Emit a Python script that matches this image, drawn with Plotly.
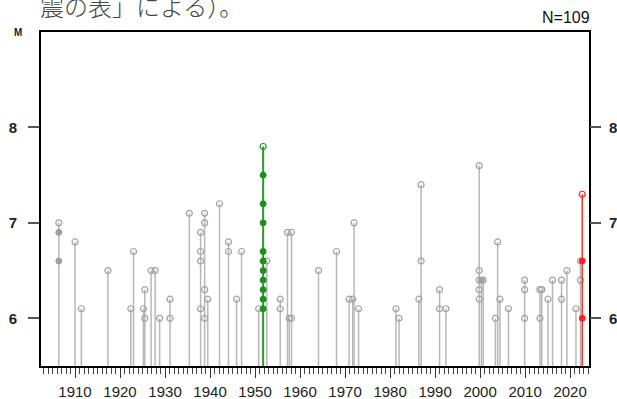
import plotly.graph_objects as go
from collections import Counter

# ---- data ----
gray_years = [1906.4, 1910.0, 1911.4, 1917.3, 1922.4, 1923.0, 1925.2, 1925.5, 1926.9, 1927.8,
              1928.8, 1931.1, 1935.4, 1937.9, 1938.8, 1939.5, 1942.1, 1944.1, 1945.9, 1947.0,
              1950.8, 1952.6, 1955.6, 1957.2, 1957.6, 1958.1, 1964.1, 1968.1, 1970.9, 1971.7,
              1972.0, 1973.0, 1981.3, 1982.0, 1986.4, 1986.9, 1991.0, 1992.4, 1999.8, 2000.3,
              2000.7, 2003.4, 2003.9, 2004.4, 2006.3, 2009.9, 2013.3, 2013.7, 2015.1, 2016.1,
              2018.1, 2019.3, 2021.3, 2022.3]
gray_mags = [[7.0, 6.9, 6.9, 6.6, 6.6], [6.8], [6.1], [6.5], [6.1], [6.7], [6.1], [6.3, 6.0], [6.5], [6.5],
             [6.0], [6.2, 6.0], [7.1], [6.9, 6.7, 6.6, 6.1], [7.1, 7.0, 6.3, 6.0], [6.2], [7.2], [6.8, 6.7], [6.2], [6.7],
             [6.1], [6.6], [6.2, 6.1], [6.9], [6.0], [6.9, 6.0], [6.5], [6.7], [6.2], [6.2],
             [7.0], [6.1], [6.1], [6.0], [6.2], [7.4, 6.6], [6.3, 6.1], [6.1], [7.6, 6.5, 6.4, 6.3, 6.2], [6.4, 6.4],
             [6.4], [6.0], [6.8], [6.2], [6.1], [6.4, 6.3, 6.0], [6.3, 6.0], [6.3], [6.2], [6.4],
             [6.4, 6.2], [6.5], [6.1], [6.6, 6.4]]
green_year = 1951.8
green_mags = [7.8, 7.5, 7.5, 7.2, 7.2, 7.0, 7.0, 6.7, 6.7, 6.6, 6.6, 6.5, 6.5, 6.5,
              6.4, 6.4, 6.3, 6.3, 6.2, 6.2, 6.1, 6.1, 6.1]
red_year = 2022.7
red_mags = [7.3, 6.6, 6.6, 6.0, 6.0]

x_ticks = list(range(1910, 2021, 10))
y_ticks = [6, 7, 8]
y_range = [5.5, 9.0]
x_range = [1902.44, 2024.2]
n_label = "N=109"
top_text = "震の表」による）。"

# ---- figure ----
W, H = 617, 399
ML, MR, MT, MB = 41, 28, 32, 33
PW, PH = W - ML - MR, H - MT - MB


def px_x(px):
    return (px - ML) / PW


def px_y(py):
    return (H - MB - py) / PH


fig = go.Figure()


def add_group(years, mags_list, stem_color, stem_width, mark_color, size):
    sx, sy = [], []
    ox, oy, fx, fy = [], [], [], []
    for yr, mags in zip(years, mags_list):
        sx += [yr, yr, None]
        sy += [y_range[0], max(mags), None]
        for m, c in Counter(mags).items():
            if c > 1:
                fx.append(yr); fy.append(m)
            else:
                ox.append(yr); oy.append(m)
    fig.add_trace(go.Scatter(x=sx, y=sy, mode="lines",
                             line=dict(color=stem_color, width=stem_width),
                             hoverinfo="skip", showlegend=False))
    fig.add_trace(go.Scatter(x=ox, y=oy, mode="markers",
                             marker=dict(symbol="circle-open", size=size, color=mark_color,
                                         line=dict(color=mark_color, width=1.2)),
                             showlegend=False))
    fig.add_trace(go.Scatter(x=fx, y=fy, mode="markers",
                             marker=dict(symbol="circle", size=size, color=mark_color,
                                         line=dict(color=mark_color, width=1)),
                             showlegend=False))


add_group(gray_years, gray_mags, "#b8b8b8", 1.5, "#a0a0a0", 6)
add_group([green_year], [green_mags], "#2e9a2e", 2, "#1f8f1f", 6)
add_group([red_year], [red_mags], "#ff3030", 1.5, "#ff2020", 6)

# invisible trace for the right-hand axis
fig.add_trace(go.Scatter(x=[x_range[0]], y=[y_range[0]], yaxis="y2", mode="markers",
                         marker=dict(opacity=0), hoverinfo="skip", showlegend=False))

tickfont_y = dict(family="Liberation Sans, Arial, sans-serif", size=15, color="#222", weight="bold")

fig.update_layout(
    width=W, height=H,
    margin=dict(l=ML, r=MR, t=MT, b=MB, autoexpand=False),
    paper_bgcolor="white", plot_bgcolor="white",
    showlegend=False,
    xaxis=dict(range=x_range, tickvals=x_ticks, ticks="outside", ticklen=10, tickwidth=1.2,
               tickcolor="#333", showgrid=False, zeroline=False,
               showline=True, linecolor="black", linewidth=2, mirror=True,
               tickfont=dict(family="Liberation Sans, Arial, sans-serif", size=15, color="#222"),
               ticklabelstandoff=1,
               minor=dict(tick0=1904, dtick=1, ticks="outside", ticklen=6, tickwidth=1,
                          tickcolor="#444", showgrid=False)),
    yaxis=dict(range=y_range, tickvals=y_ticks, ticks="outside", ticklen=11, tickwidth=1.5,
               tickcolor="#555", showgrid=False, zeroline=False,
               showline=True, linecolor="black", linewidth=2, mirror=True,
               tickfont=tickfont_y, ticklabelstandoff=8),
    yaxis2=dict(range=y_range, tickvals=y_ticks, ticks="outside", ticklen=11, tickwidth=1.5,
                tickcolor="#555", showgrid=False, zeroline=False, overlaying="y", side="right",
                showline=False, tickfont=tickfont_y, ticklabelstandoff=5),
    annotations=[
        dict(text="M", xref="paper", yref="paper", x=px_x(18), y=px_y(32),
             showarrow=False, xanchor="center", yanchor="middle",
             font=dict(family="Liberation Sans, Arial, sans-serif", size=10, color="#222", weight="bold")),
        dict(text=n_label, xref="paper", yref="paper", x=px_x(566), y=px_y(17),
             showarrow=False, xanchor="center", yanchor="middle",
             font=dict(family="Liberation Sans, Arial, sans-serif", size=16, color="#111")),
        dict(text=top_text, xref="paper", yref="paper", x=px_x(38), y=px_y(25),
             showarrow=False, xanchor="left", yanchor="bottom",
             font=dict(family="Noto Sans CJK JP", size=24, color="#444", weight=300)),
    ],
)

fig.write_html("out.html", config={"displayModeBar": False},
               post_script="document.body.style.margin='0px';document.body.style.overflow='hidden';")
